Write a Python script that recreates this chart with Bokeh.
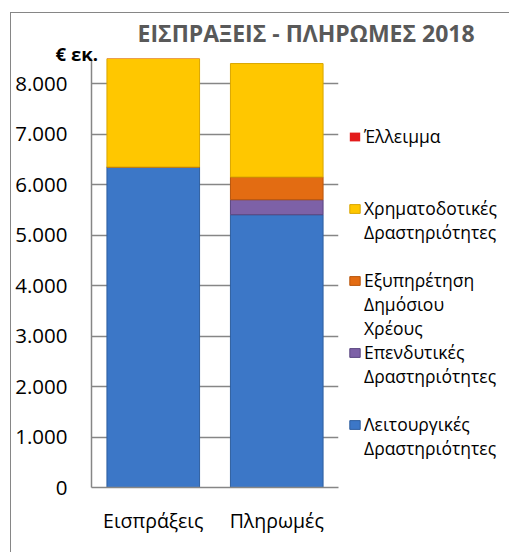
from bokeh.plotting import figure
from bokeh.models import (ColumnDataSource, FactorRange, Range1d, FixedTicker, Title,
                          Legend, LegendItem)
from bokeh.embed import file_html
from bokeh.resources import INLINE

# ---- data ----
categories = ["Εισπράξεις", "Πληρωμές"]
leitourgikes = [6350, 5405]      # Λειτουργικές Δραστηριότητες
ependytikes = [0, 297]           # Επενδυτικές Δραστηριότητες
exyphretisi = [0, 449]           # Εξυπηρέτηση Δημόσιου Χρέους
xrimatodotikes = [2350, 2249]    # Χρηματοδοτικές Δραστηριότητες
elleimma = [0, 0]                # Έλλειμμα
y_ticks = [0, 1000, 2000, 3000, 4000, 5000, 6000, 7000, 8000]
y_tick_labels = ["0", "1.000", "2.000", "3.000", "4.000", "5.000", "6.000", "7.000", "8.000"]
series = ["leit", "epen", "exyp", "xrim", "elle"]
series_labels = [["Λειτουργικές", "Δραστηριότητες"],
                 ["Επενδυτικές", "Δραστηριότητες"],
                 ["Εξυπηρέτηση", "Δημόσιου", "Χρέους"],
                 ["Χρηματοδοτικές", "Δραστηριότητες"],
                 ["Έλλειμμα"]]
colors = ["#3C77C7", "#7D61A7", "#E36C12", "#FFC700", "#E31B1B"]
line_colors = ["#2F5F9F", "#5A4680", "#B8560C", "#D9A600", None]
# blank legend rows inserted after each entry (top to bottom), to mimic the original spacing
legend_gaps = {4: 2, 3: 1, 2: 0, 1: 1, 0: 0}

source = ColumnDataSource(dict(cat=categories, leit=leitourgikes, epen=ependytikes,
                               exyp=exyphretisi, xrim=xrimatodotikes, elle=elleimma))

FONT = "Open Sans"
GREY = "#868686"

p = figure(frame_width=247, frame_height=429,
           x_range=FactorRange(factors=categories, range_padding=0),
           y_range=Range1d(0, 8500), output_backend="svg", toolbar_location=None,
           title=None,
           min_border_left=80, min_border_right=0, min_border_top=45, min_border_bottom=65)
p.outline_line_color = None
p.background_fill_color = "white"
p.border_fill_color = "white"

renderers = p.vbar_stack(series, x="cat", width=0.75, source=source,
                         fill_color=colors, line_color=line_colors, line_width=1)

# axes
p.yaxis.ticker = FixedTicker(ticks=y_ticks)
p.yaxis.major_label_overrides = {t: l for t, l in zip(y_ticks, y_tick_labels)}
p.yaxis.major_tick_out = 0
p.yaxis.major_tick_in = 0
p.yaxis.minor_tick_out = 0
p.yaxis.minor_tick_in = 0
p.yaxis.axis_label = None
p.yaxis.axis_line_color = GREY
p.yaxis.axis_line_width = 1.5
p.yaxis.major_label_standoff = 24
p.yaxis.major_label_text_font = FONT
p.yaxis.major_label_text_font_size = "20.5px"
p.yaxis.major_label_text_color = "black"

p.xaxis.major_tick_out = 0
p.xaxis.major_tick_in = 0
p.xaxis.axis_label = None
p.xaxis.axis_line_color = GREY
p.xaxis.axis_line_width = 1.5
p.xaxis.major_label_standoff = 19
p.xaxis.major_label_text_font = FONT
p.xaxis.major_label_text_font_size = "19.5px"
p.xaxis.major_label_text_color = "black"

p.xgrid.grid_line_color = None
p.ygrid.grid_line_color = GREY
p.ygrid.grid_line_width = 1.5
p.ygrid.ticker = FixedTicker(ticks=y_ticks)

# unit label (closest to the frame) and main title
p.add_layout(Title(text="€ εκ.", align="left", offset=-36, standoff=-14,
                   text_font=FONT, text_font_style="bold", text_font_size="18.5px",
                   text_color="black"), "above")
p.add_layout(Title(text="ΕΙΣΠΡΑΞΕΙΣ - ΠΛΗΡΩΜΕΣ 2018", align="left", offset=46, standoff=-6,
                   text_font=FONT, text_font_style="bold", text_font_size="23px",
                   text_color="#595959"), "above")

# legend, top entry = Έλλειμμα; one legend row per text line
items = []
for i in reversed(range(len(series))):
    for j, line in enumerate(series_labels[i]):
        items.append(LegendItem(label=line, renderers=[renderers[i]] if j == 0 else []))
    for _ in range(legend_gaps[i]):
        items.append(LegendItem(label=" ", renderers=[]))
legend = Legend(items=items, location="top_left", glyph_width=13, glyph_height=11,
                label_standoff=3, spacing=0, padding=0, margin=10, label_height=24,
                title=" ", title_text_font_size="10px", title_standoff=45,
                label_text_font=FONT, label_text_font_size="17.5px", label_text_color="black",
                border_line_color=None, background_fill_alpha=0)
p.add_layout(legend, "right")

p.margin = (12, 0, 0, 10)
p.styles = {"border-left": "1.5px solid #868686", "border-top": "1.5px solid #868686"}

open("out.html", "w").write(file_html(p, INLINE))
